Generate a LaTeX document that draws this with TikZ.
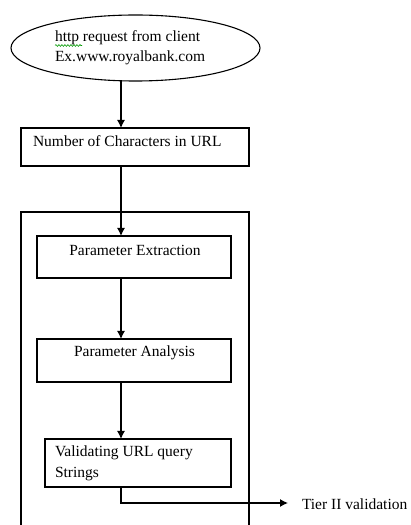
\documentclass[tikz,border=0pt]{standalone}
\usepackage{fontspec}
\setmainfont{Liberation Serif}
\usetikzlibrary{shapes.geometric,arrows.meta,decorations.pathmorphing}

\begin{document}
\begin{tikzpicture}[x=1pt,y=1pt,
  every node/.style={inner sep=0pt,outer sep=0pt},
  lbl/.style={font=\fontsize{15.5}{19}\selectfont},
  boxshape/.style={draw,line width=1.2pt,rectangle,minimum width=#1},
  flow/.style={line width=1.2pt,-{Latex[length=8pt,width=8pt]}}]

  \useasboundingbox (0,0) rectangle (411,525);

  % start of the flow: incoming request
  \node[draw,line width=1.1pt,ellipse,minimum width=249pt,minimum height=66pt] (req) at (135.5,477) {};
  \node[lbl,anchor=base west] (req1) at (55,483) {http request from client};
  \node[lbl,anchor=base west] (req2) at (55,463) {Ex.www.royalbank.com};
  \draw[green!60!black,line width=0.6pt,decorate,
        decoration={snake,amplitude=0.9pt,segment length=3pt}] (55,479.5) -- (82,479.5);

  % URL length check
  \node[boxshape=228pt,minimum height=38pt] (num) at (135,378) {};
  \node[lbl,anchor=base west] (numt) at (33,378.5) {Number of Characters in URL};

  % enclosing frame of the query checks (runs past the lower edge)
  \coordinate (frtl) at (21,313);
  \coordinate (frbr) at (249,-10);
  \draw[line width=1.2pt] (frbr) -- (frbr |- frtl) -- (frtl) -- (frtl |- frbr);

  % inner steps
  \node[boxshape=194pt,minimum height=42pt] (ext) at (134,268) {};
  \node[lbl,anchor=base] (extt) at (135,269) {Parameter Extraction};

  \node[boxshape=194pt,minimum height=43pt] (ana) at (134,164.5) {};
  \node[lbl,anchor=base] (anat) at (134.5,168) {Parameter Analysis};

  \node[boxshape=186pt,minimum height=48pt] (val) at (138,62) {};
  \node[lbl,anchor=base west] (valt1) at (55,68) {Validating URL query};
  \node[lbl,anchor=base west] (valt2) at (55,47) {Strings};

  \node[lbl,anchor=base west] (tier) at (302,16) {Tier II validation};

  % connectors along the main axis
  \coordinate (axis) at (121,0);
  \draw[flow] (req.south -| axis) -- (num.north -| axis);
  \draw[flow] (num.south -| axis) -- (ext.north -| axis);
  \draw[flow] (ext.south -| axis) -- (ana.north -| axis);
  \draw[flow] (ana.south -| axis) -- (val.north -| axis);
  \coordinate (bend) at (121,22);
  \coordinate (tierin) at (288,22);
  \draw[flow] (val.south -| axis) -- (bend) -- (tierin);
\end{tikzpicture}
\end{document}
